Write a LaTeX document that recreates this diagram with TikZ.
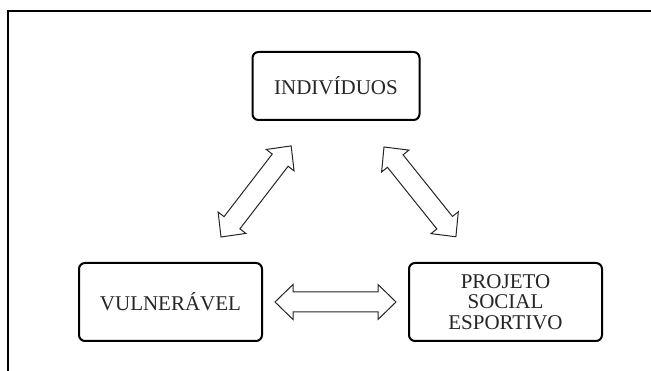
\documentclass[tikz,border=0pt]{standalone}
\usepackage{fontspec}
\setmainfont{Liberation Serif}
\begin{document}
\begin{tikzpicture}[x=1pt,y=-1pt,
  box/.style={draw=black, line width=2pt, rounded corners=6pt, fill=white,
    align=center, inner sep=0pt, text=black!85,
    font=\fontsize{21}{20.5}\selectfont},
  arrowline/.style={draw=black!85, line width=1pt, fill=white, line join=miter},
  pics/dblarr/.style={code={
    \draw[arrowline] (0,0) -- (18,-17.5) -- (18,-10) -- (#1-18,-10) -- (#1-18,-17.5)
      -- (#1,0) -- (#1-18,17.5) -- (#1-18,10) -- (18,10) -- (18,17.5) -- cycle;
  }}]
\useasboundingbox (0,0) rectangle (651,371);
% frame
\coordinate (fr1) at (652,11);
\coordinate (fr2) at (8,11);
\coordinate (fr3) at (8,372);
\draw[line width=2pt, line cap=rect] (fr1) -- (fr2) -- (fr3);
% boxes
\node[box, minimum width=167, minimum height=68] (ind) at (336,86) {INDIVÍDUOS};
\node[box, minimum width=183, minimum height=78] (vul) at (170.5,302) {VULNERÁVEL};
\node[box, minimum width=193, minimum height=78] (pse) at (505.5,302) {PROJETO\\SOCIAL\\ESPORTIVO};
% block arrows
\coordinate (a1) at (221,237);
\coordinate (a2) at (384,147);
\coordinate (a3) at (275,302);
\pic[rotate=52.4] at (a1) {dblarr=115};
\pic[rotate=-51.3] at (a2) {dblarr=115};
\pic at (a3) {dblarr=121};
\end{tikzpicture}
\end{document}
